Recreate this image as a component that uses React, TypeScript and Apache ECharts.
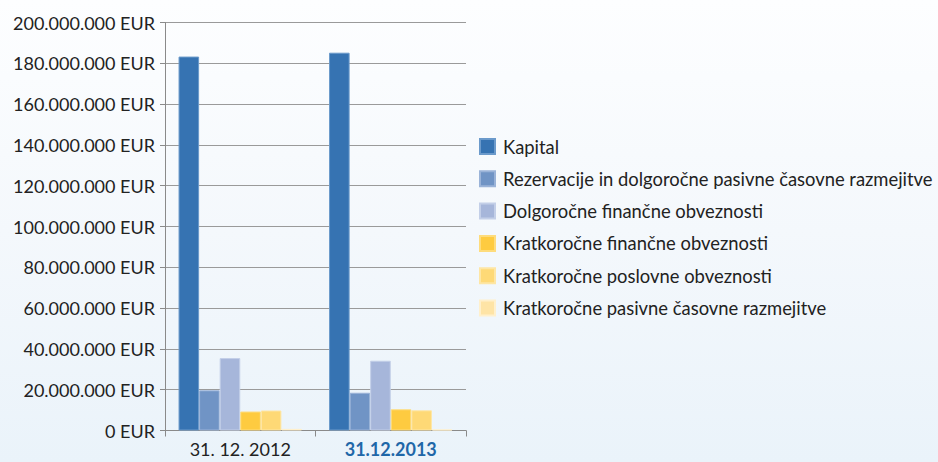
import React, { useEffect, useRef } from "react";
import * as echarts from "echarts";

const categories = ["31. 12. 2012", "31.12.2013"];
const seriesNames = [
  "Kapital",
  "Rezervacije in dolgoročne pasivne časovne razmejitve",
  "Dolgoročne finančne obveznosti",
  "Kratkoročne finančne obveznosti",
  "Kratkoročne poslovne obveznosti",
  "Kratkoročne pasivne časovne razmejitve",
];
const kapital = [183300000, 185200000];
const rezervacije = [19700000, 18500000];
const dolgorocneFin = [35500000, 34200000];
const kratkorocneFin = [9300000, 10400000];
const kratkorocnePosl = [9800000, 9900000];
const kratkorocnePas = [800000, 500000];
const seriesValues = [kapital, rezervacije, dolgorocneFin, kratkorocneFin, kratkorocnePosl, kratkorocnePas];
const colors = ["#3673b2", "#7094c5", "#a6b6da", "#fecb40", "#fed976", "#fee4a6"];
const borders = ["#6b9acb", "#9ab3d8", "#c3cfe8", "#fedc7c", "#fee6a4", "#fff0cc"];

function fmt(v: number): string {
  const s = Math.round(v).toString().replace(/\B(?=(\d{3})+(?!\d))/g, ".");
  return s + " EUR";
}

export default function App() {
  const ref = useRef<HTMLDivElement>(null);
  useEffect(() => {
    if (!ref.current) return;
    const chart = echarts.init(ref.current, undefined, { renderer: "svg" });
    chart.setOption({
      animation: false,
      textStyle: { fontFamily: "Lato" },
      grid: { left: 165, right: 472, top: 22.5, bottom: 31.5, containLabel: false },
      legend: {
        orient: "vertical",
        left: 474,
        top: 132.5,
        padding: 5,
        itemWidth: 15,
        itemHeight: 15,
        itemGap: 14.3,
        icon: "rect",
        data: seriesNames,
        textStyle: { fontFamily: "Lato", fontSize: 18.4, color: "#222", padding: [0, 0, 0, 3] },
      },
      xAxis: {
        type: "category",
        data: categories,
        axisLine: { lineStyle: { color: "#8a8a8a", width: 1 } },
        axisTick: { show: true, length: 6, lineStyle: { color: "#8a8a8a" } },
        axisLabel: {
          interval: 0,
          hideOverlap: false,
          margin: 9,
          fontSize: 18,
          fontFamily: "Lato",
          formatter: (v: string, i: number) => (i === 1 ? "{b|" + v + "}" : "{a|" + v + "}"),
          rich: {
            a: { fontSize: 18, fontFamily: "Lato", color: "#222" },
            b: { fontSize: 18, fontFamily: "Lato", color: "#1f67a8", fontWeight: "bold" },
          },
        },
      },
      yAxis: {
        type: "value",
        min: 0,
        max: 200000000,
        interval: 20000000,
        axisLine: { show: true, lineStyle: { color: "#8a8a8a", width: 1 } },
        axisTick: { show: true, length: 5, lineStyle: { color: "#8a8a8a" } },
        splitLine: { lineStyle: { color: "#9a9a9a", width: 1 } },
        axisLabel: {
          margin: 10,
          fontSize: 18,
          fontFamily: "Lato",
          color: "#222",
          formatter: (v: number) => fmt(v),
        },
      },
      series: seriesNames.map((name, i) => ({
        name,
        type: "bar",
        data: seriesValues[i],
        barGap: "0%",
        barCategoryGap: "18%",
        itemStyle: { color: colors[i], borderColor: borders[i], borderWidth: 1 },
      })),
    });
    return () => chart.dispose();
  }, []);
  return (
    <div
      style={{
        position: "fixed",
        left: 0,
        top: 0,
        width: 938,
        height: 462,
        background: "linear-gradient(to bottom, #fdfeff 0%, #f4f8fc 50%, #eaf3fa 100%)",
      }}
    >
      <div ref={ref} style={{ width: 938, height: 462 }} />
    </div>
  );
}
